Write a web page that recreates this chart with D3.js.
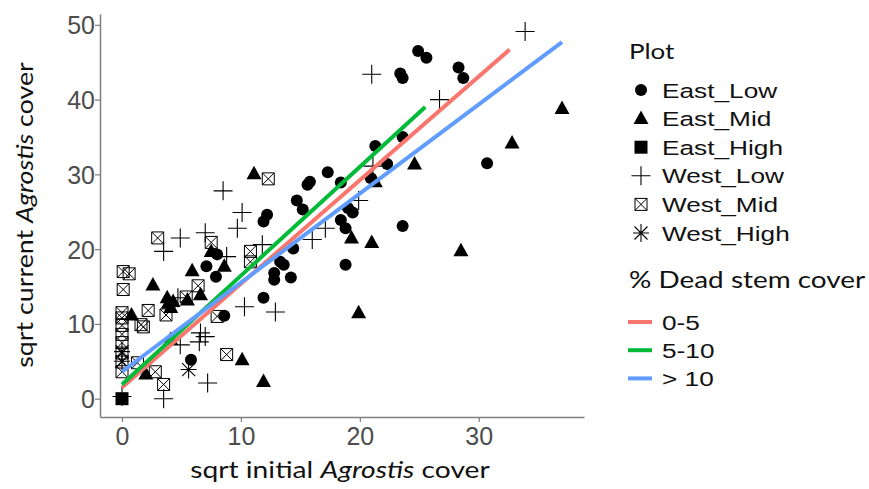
<!DOCTYPE html>
<html>
<head>
<meta charset="utf-8">
<script src="https://cdn.jsdelivr.net/npm/d3@7"></script>
<style>
  body { margin: 0; background: #fff; }
  svg { display: block; }
  .tick-label { font-family: "Liberation Sans", Arial, sans-serif; font-size: 25px; fill: #4d4d4d; }
  .axis-title { font-family: Lato, "Open Sans", sans-serif; font-size: 24px; fill: #111; }
  .legend-title { font-family: Lato, "Open Sans", sans-serif; fill: #111; }
  .legend-text { font-family: "Liberation Sans", Arial, sans-serif; font-size: 20.5px; fill: #111; }
</style>
</head>
<body>
<script>
// values: sqrt initial cover (x) and sqrt current cover (y)
var eastLowX = [24.9, 25.6, 23.4, 23.6, 28.3, 28.7, 23.6, 21.3, 22.3, 20.9, 17.3, 15.8, 15.6, 18.4, 14.7, 15.2, 30.7, 23.6, 18.8, 18.4, 18.8, 19.4, 19.0, 14.4, 13.3, 13.6, 12.8, 12.8, 14.2, 12.2, 11.9, 8.0, 7.1, 7.9, 8.6, 5.8, 11.9];
var eastLowY = [46.5, 45.6, 43.5, 42.9, 44.3, 42.9, 35.0, 33.8, 31.4, 29.5, 30.3, 29.0, 28.6, 28.9, 26.5, 25.3, 31.5, 23.1, 17.9, 23.9, 22.8, 24.9, 25.5, 20.1, 18.3, 17.9, 16.8, 15.9, 16.2, 24.6, 23.7, 19.3, 17.7, 16.3, 11.1, 5.2, 13.5];

var eastMidX = [11.1, 24.6, 21.3, 37.0, 32.8, 19.3, 21.0, 19.9, 28.5, 7.5, 8.6, 2.6, 5.9, 3.8, 3.9, 4.1, 4.3, 5.5, 6.6, 0.8, 4.1, 10.1, 11.9, 2.0];
var eastMidY = [30.1, 31.4, 29.0, 38.8, 34.2, 21.5, 20.9, 11.5, 19.8, 19.7, 17.7, 15.2, 17.1, 13.5, 12.8, 12.2, 13.0, 13.2, 13.9, 11.2, 7.9, 5.2, 2.3, 3.3];

var eastHighX = [0.0];
var eastHighY = [0.0];

var westLowX = [8.5, 21.0, 26.7, 33.9, 21.1, 19.9, 16.0, 17.1, 12.9, 10.1, 9.7, 4.9, 3.5, 7.0, 8.8, 11.8, 4.7, 10.3, 4.9, 6.6, 7.0, 6.5, 7.2, 3.5, 0.0];
var westLowY = [27.8, 43.4, 40.0, 49.1, 31.1, 26.5, 21.3, 22.8, 11.6, 24.9, 22.8, 21.5, 19.7, 22.2, 19.0, 20.6, 13.5, 12.3, 7.2, 8.8, 8.3, 7.6, 2.1, 0.0, 0.3];

var westMidX = [12.3, 3.0, 7.5, 10.8, 10.8, 0.1, 0.6, 0.1, 6.4, 5.4, 3.7, 2.2, 1.6, 1.8, 0.0, 0.0, 0.0, 0.0, 0.0, 0.0, 0.0, 0.0, 8.0, 8.8, 1.3, 2.8, 3.5];
var westMidY = [29.4, 21.5, 20.9, 19.7, 18.3, 17.0, 16.7, 14.6, 15.1, 13.6, 11.2, 11.8, 9.9, 9.6, 11.5, 10.8, 9.8, 8.6, 7.5, 6.1, 4.9, 3.6, 11.0, 5.9, 4.8, 3.6, 1.9];

var westHighX = [0.0, 0.0, 5.6];
var westHighY = [6.3, 5.0, 3.9];

// regression lines by dead stem cover class
var stemClasses = ["0-5", "5-10", "> 10"];
var stemColors = ["#F8766D", "#00BA38", "#619CFF"];
var lineStartX = [0.0, 0.0, 0.0];
var lineStartY = [1.5, 1.9, 3.6];
var lineEndX = [32.6, 25.5, 37.0];
var lineEndY = [46.7, 39.0, 47.7];

var plotNames = ["East_Low", "East_Mid", "East_High", "West_Low", "West_Mid", "West_High"];
var xTicks = [0, 10, 20, 30];
var yTicks = [0, 10, 20, 30, 40, 50];

var svgWidth = 869, svgHeight = 489;
var svg = d3.select("body").append("svg")
  .attr("width", svgWidth)
  .attr("height", svgHeight);

var x = d3.scaleLinear().domain([-1.85, 38.85]).range([100, 584]);
var y = d3.scaleLinear().domain([-2.45, 51.45]).range([417, 14]);

// shape drawers, one per plot group
function shapePath(kind) {
  var p = d3.path();
  if (kind === 0) { p.arc(0, 0, 6, 0, 2 * Math.PI); }
  else if (kind === 1) { p.moveTo(0, -8); p.lineTo(7.5, 5.5); p.lineTo(-7.5, 5.5); p.closePath(); }
  else if (kind === 2) { p.rect(-6.5, -6.5, 13, 13); }
  else if (kind === 3) { p.moveTo(-9.5, 0); p.lineTo(9.5, 0); p.moveTo(0, -9.5); p.lineTo(0, 9.5); }
  else if (kind === 4) { p.rect(-6, -6, 12, 12); p.moveTo(-6, -6); p.lineTo(6, 6); p.moveTo(6, -6); p.lineTo(-6, 6); }
  else { p.moveTo(-8, 0); p.lineTo(8, 0); p.moveTo(0, -9); p.lineTo(0, 9);
         p.moveTo(-6.5, -6.5); p.lineTo(6.5, 6.5); p.moveTo(6.5, -6.5); p.lineTo(-6.5, 6.5); }
  return p.toString();
}
function styleShape(sel, kind) {
  if (kind <= 2) sel.attr("fill", "#000").attr("stroke", "none");
  else sel.attr("fill", "none").attr("stroke", "#000").attr("stroke-width", kind === 4 ? 1 : 1.1);
}

// text is stretched sideways in the picture, so scale each label to the width it takes there
function stretched(parent, tx, ty, rot, width, cls) {
  var g = parent.append("g");
  var t = g.append("text").attr("class", cls);
  return { text: t, fit: function() {
    var w = t.node().getBBox().width;
    var s = width ? width / w : 1;
    g.attr("transform", "translate(" + tx + "," + ty + ")" + (rot ? " rotate(" + rot + ")" : "") + " scale(" + s + ",1)");
  } };
}

var groups = [
  [eastLowX, eastLowY], [eastMidX, eastMidY], [eastHighX, eastHighY],
  [westLowX, westLowY], [westMidX, westMidY], [westHighX, westHighY]
];

var pts = svg.append("g");
groups.forEach(function(g, k) {
  var data = g[0].map(function(v, i) { return { x: v, y: g[1][i] }; });
  pts.selectAll(null)
    .data(data)
    .enter()
    .append("path")
    .attr("d", shapePath(k))
    .attr("transform", function(d) { return "translate(" + x(d.x) + "," + y(d.y) + ")"; })
    .call(styleShape, k);
});

// fitted lines
svg.append("g").selectAll("line")
  .data(stemClasses)
  .enter()
  .append("line")
  .attr("x1", function(d, i) { return x(lineStartX[i]); })
  .attr("y1", function(d, i) { return y(lineStartY[i]); })
  .attr("x2", function(d, i) { return x(lineEndX[i]); })
  .attr("y2", function(d, i) { return y(lineEndY[i]); })
  .attr("stroke", function(d, i) { return stemColors[i]; })
  .attr("stroke-width", 4);

// axes
var bottomAxis = d3.axisBottom(x).tickValues(xTicks).tickSize(5).tickSizeOuter(0);
var leftAxis = d3.axisLeft(y).tickValues(yTicks).tickSize(5).tickSizeOuter(0);

var gx = svg.append("g").attr("transform", "translate(0,417)").call(bottomAxis);
var gy = svg.append("g").attr("transform", "translate(100,0)").call(leftAxis);
[gx, gy].forEach(function(g) {
  g.select(".domain").attr("stroke", "#7f7f7f").attr("stroke-width", 1.5);
  g.selectAll(".tick line").attr("stroke", "#7f7f7f").attr("stroke-width", 1.2);
  g.selectAll(".tick text").attr("class", "tick-label").attr("font-size", null).attr("font-family", null).attr("fill", null);
});
gx.selectAll(".tick text").attr("dy", null).attr("y", 28);
gy.selectAll(".tick text").attr("x", -5).attr("dy", "0.36em");

// axis titles
var xt = stretched(svg, 340, 478, 0, 300, "axis-title");
xt.text.attr("text-anchor", "middle");
xt.text.append("tspan").text("sqrt initial ");
xt.text.append("tspan").attr("font-style", "italic").text("Agrostis");
xt.text.append("tspan").text(" cover");
xt.fit();

var yt = stretched(svg, 33, 215, -90, 306, "axis-title");
yt.text.attr("text-anchor", "middle");
yt.text.append("tspan").text("sqrt current ");
yt.text.append("tspan").attr("font-style", "italic").text("Agrostis");
yt.text.append("tspan").text(" cover");
yt.fit();

// legend: plot shapes
var leg = svg.append("g");
var lt = stretched(leg, 629, 59, 0, 46, "legend-title");
lt.text.attr("font-size", 21).text("Plot");
lt.fit();
plotNames.forEach(function(name, k) {
  var ly = 90 + k * 28.6;
  leg.append("path").attr("d", shapePath(k))
    .attr("transform", "translate(641," + ly + ")")
    .call(styleShape, k);
  var t = stretched(leg, 662, ly + 7.5, 0, null, "legend-text");
  t.text.text(name);
  t.fit();
  t.text.node().parentNode.setAttribute("transform", "translate(662," + (ly + 7.5) + ") scale(1.28,1)");
});

// legend: dead stem cover
var st = stretched(leg, 629, 288, 0, 237, "legend-title");
st.text.attr("font-size", 23).text("% Dead stem cover");
st.fit();
stemClasses.forEach(function(name, i) {
  var ly = 322 + i * 28.2;
  leg.append("line").attr("x1", 628).attr("x2", 652).attr("y1", ly).attr("y2", ly)
    .attr("stroke", stemColors[i]).attr("stroke-width", 4);
  var t = leg.append("text").attr("class", "legend-text")
    .attr("transform", "translate(662," + (ly + 7.5) + ") scale(1.28,1)")
    .text(name);
});
</script>
</body>
</html>
